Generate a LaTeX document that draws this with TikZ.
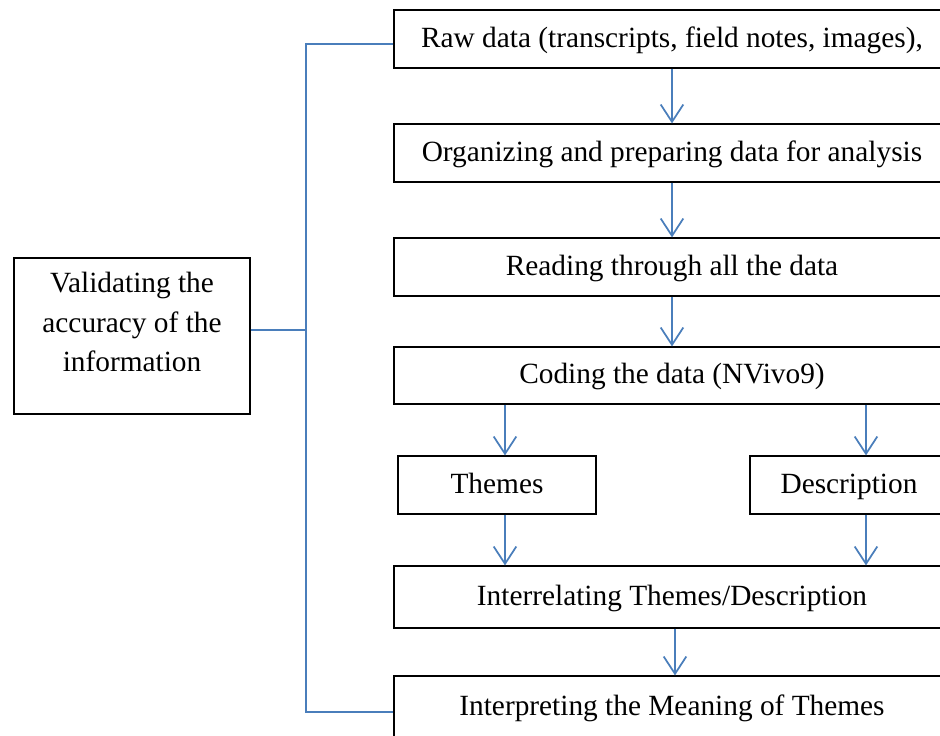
\documentclass[tikz,border=0pt]{standalone}
\usepackage{fontspec}
\setmainfont{Liberation Serif}
\usetikzlibrary{arrows.meta}
\definecolor{lineBlue}{HTML}{4A7EBB}

\begin{document}
\begin{tikzpicture}
[x=0.75pt,y=-0.75pt,
  boxDecorate/.style={draw=black,line width=0.9pt,inner sep=0pt,
    font=\fontsize{22}{29.5}\selectfont},
  lineBox/.style={boxDecorate,text height=16pt,text depth=4pt},
  arrowDecorate/.style={draw=lineBlue,line width=1.3pt,
    -{Straight Barb[length=13pt,width=17pt]}},
  linkDecorate/.style={draw=lineBlue,line width=1.3pt}]
\useasboundingbox (0,0) rectangle (940,736);
\clip (0,0) rectangle (940,736);
%% boxes of the main column
\foreach \nodename/\y/\h/\txt in {
  raw/39/58/{Raw data (transcripts, field notes, images),},
  organize/153/58/{Organizing and preparing data for analysis},
  read/267/58/{Reading through all the data},
  code/375.5/57/{Coding the data (NVivo9)},
  relate/597/62/{Interrelating Themes/Description},
  interpret/707/62/{Interpreting the Meaning of Themes}}
{
  \node (\nodename) at (672,\y) [lineBox,minimum width=556*0.75pt,
    minimum height=\h*0.75pt] {\txt};
}
\node (themes) at (497,485) [lineBox,minimum width=198*0.75pt,
  minimum height=58*0.75pt] {Themes};
\node (desc) at (849,485) [lineBox,minimum width=198*0.75pt,
  minimum height=58*0.75pt] {Description};
\node (valid) at (132,336) [boxDecorate,minimum width=236*0.75pt,
  minimum height=156*0.75pt,align=center,text depth=21pt]
  {Validating the\\accuracy of the\\information};
%% arrows
\coordinate (themesIn) at ([xshift=6pt]themes.north);
\coordinate (descIn) at ([xshift=12.75pt]desc.north);
\coordinate (spine) at (306,330);
\draw[arrowDecorate] (raw) -- (organize);
\draw[arrowDecorate] (organize) -- (read);
\draw[arrowDecorate] (read) -- (code);
\draw[arrowDecorate] (themesIn |- code.south) -- (themesIn);
\draw[arrowDecorate] (descIn |- code.south) -- (descIn);
\draw[arrowDecorate] (themesIn |- themes.south) -- (themesIn |- relate.north);
\draw[arrowDecorate] (descIn |- desc.south) -- (descIn |- relate.north);
\draw[arrowDecorate] ([xshift=2.25pt]relate.south) -- ([xshift=2.25pt]interpret.north);
%% links to the validation box
\draw[linkDecorate] (valid.east |- spine) -- (spine);
\draw[linkDecorate] ([yshift=-3.75pt]raw.west) -| (spine)
  |- ([yshift=-3.75pt]interpret.west);
\end{tikzpicture}
\end{document}
